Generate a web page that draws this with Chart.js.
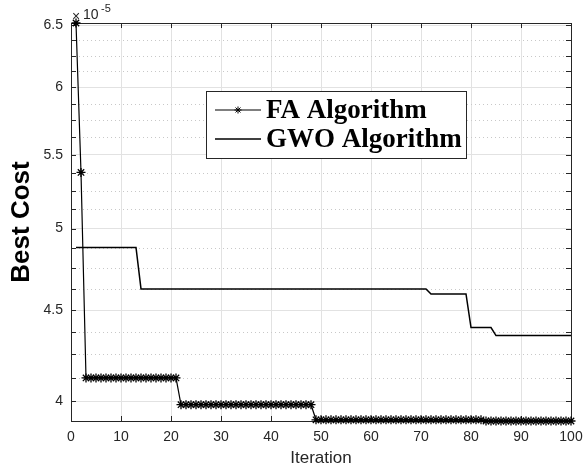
<!DOCTYPE html>
<html>
<head>
<meta charset="utf-8">
<script src="https://cdn.jsdelivr.net/npm/chart.js@4.4.1/dist/chart.umd.min.js"></script>
<style>
  html, body { margin: 0; padding: 0; background: #fff; }
  #wrap { width: 584px; height: 469px; }
</style>
</head>
<body>
<div id="wrap"><canvas id="costChart" width="584" height="469"></canvas></div>
<script>
// best cost per iteration, in units of 1e-5
const iterations = [
  1, 2, 3, 4, 5, 6, 7, 8, 9, 10, 11, 12, 13, 14, 15, 16, 17, 18, 19, 20,
  21, 22, 23, 24, 25, 26, 27, 28, 29, 30, 31, 32, 33, 34, 35, 36, 37, 38, 39, 40,
  41, 42, 43, 44, 45, 46, 47, 48, 49, 50, 51, 52, 53, 54, 55, 56, 57, 58, 59, 60,
  61, 62, 63, 64, 65, 66, 67, 68, 69, 70, 71, 72, 73, 74, 75, 76, 77, 78, 79, 80,
  81, 82, 83, 84, 85, 86, 87, 88, 89, 90, 91, 92, 93, 94, 95, 96, 97, 98, 99, 100
];

const faCost = [
  6.52, 5.376, 4.123, 4.123, 4.123, 4.123, 4.123, 4.123, 4.123, 4.123,
  4.123, 4.123, 4.123, 4.123, 4.123, 4.123, 4.123, 4.123, 4.123, 4.123,
  4.123, 3.983, 3.983, 3.983, 3.983, 3.983, 3.983, 3.983, 3.983, 3.983,
  3.983, 3.983, 3.983, 3.983, 3.983, 3.983, 3.983, 3.983, 3.983, 3.983,
  3.983, 3.983, 3.983, 3.983, 3.983, 3.983, 3.983, 3.983, 3.906, 3.906,
  3.906, 3.906, 3.906, 3.906, 3.906, 3.906, 3.906, 3.906, 3.906, 3.906,
  3.906, 3.906, 3.906, 3.906, 3.906, 3.906, 3.906, 3.906, 3.906, 3.906,
  3.906, 3.906, 3.906, 3.906, 3.906, 3.906, 3.906, 3.906, 3.906, 3.906,
  3.906, 3.906, 3.900, 3.900, 3.900, 3.900, 3.900, 3.900, 3.900, 3.900,
  3.900, 3.900, 3.900, 3.900, 3.900, 3.900, 3.900, 3.900, 3.900, 3.900
];

const gwoCost = [
  4.88, 4.88, 4.88, 4.88, 4.88, 4.88, 4.88, 4.88, 4.88, 4.88,
  4.88, 4.88, 4.88, 4.625, 4.625, 4.625, 4.625, 4.625, 4.625, 4.625,
  4.625, 4.625, 4.625, 4.625, 4.625, 4.625, 4.625, 4.625, 4.625, 4.625,
  4.625, 4.625, 4.625, 4.625, 4.625, 4.625, 4.625, 4.625, 4.625, 4.625,
  4.625, 4.625, 4.625, 4.625, 4.625, 4.625, 4.625, 4.625, 4.625, 4.625,
  4.625, 4.625, 4.625, 4.625, 4.625, 4.625, 4.625, 4.625, 4.625, 4.625,
  4.625, 4.625, 4.625, 4.625, 4.625, 4.625, 4.625, 4.625, 4.625, 4.625,
  4.625, 4.595, 4.595, 4.595, 4.595, 4.595, 4.595, 4.595, 4.595, 4.40,
  4.40, 4.40, 4.40, 4.40, 4.355, 4.355, 4.355, 4.355, 4.355, 4.355,
  4.355, 4.355, 4.355, 4.355, 4.355, 4.355, 4.355, 4.355, 4.355, 4.355
];

const xTicks = [0, 10, 20, 30, 40, 50, 60, 70, 80, 90, 100];
const costTicks = [4, 4.5, 5, 5.5, 6, 6.5];
const costMinorTicks = [
  4.125, 4.25, 4.375, 4.625, 4.75, 4.875, 5.125, 5.25, 5.375,
  5.625, 5.75, 5.875, 6.125, 6.25, 6.375
];
const seriesLabels = ['FA Algorithm', 'GWO Algorithm'];

const axisColor = '#262626';
const tickFont = { family: 'Liberation Sans, Arial, sans-serif', size: 14 };

function strokeLine(ctx, x1, y1, x2, y2) {
  ctx.beginPath();
  ctx.moveTo(x1, y1);
  ctx.lineTo(x2, y2);
  ctx.stroke();
}

// minor dotted grid, box frame and inward tick marks
const axesFrame = {
  id: 'axesFrame',
  beforeDatasetsDraw(chart) {
    const { ctx, chartArea: a, scales: { x, y } } = chart;
    ctx.save();
    ctx.lineWidth = 1;
    ctx.strokeStyle = '#c8c8c8';
    ctx.setLineDash([1, 3]);
    costMinorTicks.forEach(v => {
      const py = Math.round(y.getPixelForValue(v)) + 0.5;
      strokeLine(ctx, a.left, py, a.right, py);
    });
    ctx.setLineDash([]);

    ctx.strokeStyle = axisColor;
    xTicks.forEach(v => {
      const px = Math.round(x.getPixelForValue(v)) + 0.5;
      strokeLine(ctx, px, a.bottom, px, a.bottom - 5);
      strokeLine(ctx, px, a.top, px, a.top + 5);
    });
    costTicks.concat(costMinorTicks).forEach(v => {
      const py = Math.round(y.getPixelForValue(v)) + 0.5;
      strokeLine(ctx, a.left, py, a.left + 5, py);
      strokeLine(ctx, a.right, py, a.right - 5, py);
    });
    ctx.strokeRect(Math.round(a.left) + 0.5, Math.round(a.top) + 0.5,
      Math.round(a.right - a.left), Math.round(a.bottom - a.top));
    ctx.restore();
  },
  afterDraw(chart) {
    const { ctx, chartArea: a } = chart;
    ctx.save();
    // exponent label
    ctx.fillStyle = axisColor;
    ctx.textBaseline = 'alphabetic';
    ctx.font = '14px Liberation Sans, Arial, sans-serif';
    ctx.fillText('\u00d7', a.left + 1, 21);
    ctx.fillText('10', a.left + 12, 19);
    ctx.font = '11px Liberation Sans, Arial, sans-serif';
    ctx.fillText('-5', a.left + 30, 12);

    // legend box
    const box = { left: 206, top: 91, width: 260, height: 67 };
    ctx.fillStyle = '#fff';
    ctx.fillRect(box.left, box.top, box.width, box.height);
    ctx.strokeStyle = axisColor;
    ctx.lineWidth = 1;
    ctx.strokeRect(box.left + 0.5, box.top + 0.5, box.width, box.height);

    const rowY = [110, 139];
    chart.data.datasets.forEach((ds, i) => {
      const yy = rowY[i];
      ctx.strokeStyle = ds.borderColor;
      ctx.lineWidth = ds.borderWidth;
      strokeLine(ctx, 215, yy, 261, yy);
      if (ds.pointRadius > 0) {
        ctx.strokeStyle = ds.pointBorderColor;
        ctx.lineWidth = 1;
        Chart.helpers.drawPoint(ctx, {
          pointStyle: ds.pointStyle, radius: 3.5, rotation: 0, borderWidth: 1
        }, 238, yy);
      }
      ctx.fillStyle = '#000';
      ctx.font = 'bold 27px Liberation Serif, Times New Roman, serif';
      ctx.textBaseline = 'middle';
      ctx.fillText(ds.label, 266, yy + 1);
    });
    ctx.restore();
  }
};

const ctx = document.getElementById('costChart').getContext('2d');

new Chart(ctx, {
  type: 'line',
  data: {
    datasets: [{
      label: seriesLabels[0],
      data: iterations.map((it, i) => ({ x: it, y: faCost[i] })),
      borderColor: '#000',
      borderWidth: 1.2,
      pointStyle: 'star',
      pointRadius: 4.5,
      pointBorderWidth: 1.3,
      pointBorderColor: '#000',
      pointBackgroundColor: 'rgba(0,0,0,0)',
      tension: 0,
      clip: false
    }, {
      label: seriesLabels[1],
      data: iterations.map((it, i) => ({ x: it, y: gwoCost[i] })),
      borderColor: '#000',
      borderWidth: 1.5,
      pointRadius: 0,
      tension: 0,
      clip: false
    }]
  },
  options: {
    responsive: false,
    animation: false,
    layout: { padding: { left: 0, right: 13, top: 23, bottom: 0 } },
    plugins: {
      legend: { display: false },
      tooltip: { enabled: false }
    },
    scales: {
      x: {
        type: 'linear',
        min: 0,
        max: 100,
        afterBuildTicks(scale) { scale.ticks = xTicks.map(v => ({ value: v })); },
        afterFit(scale) {
          scale.height = 48;
          scale.paddingLeft = 0;
          scale.paddingRight = 0;
        },
        ticks: { color: axisColor, font: tickFont, padding: 8, maxRotation: 0 },
        grid: { color: '#e2e2e2', drawTicks: false },
        border: { display: false },
        title: {
          display: true,
          text: 'Iteration',
          color: axisColor,
          font: { family: 'Liberation Sans, Arial, sans-serif', size: 17, lineHeight: 1 },
          padding: { top: 0, bottom: 2 }
        }
      },
      y: {
        type: 'logarithmic',
        min: 3.9,
        max: 6.52,
        afterBuildTicks(scale) { scale.ticks = costTicks.map(v => ({ value: v })); },
        afterFit(scale) {
          scale.width = 71;
          scale.paddingTop = 0;
          scale.paddingBottom = 0;
        },
        ticks: {
          color: axisColor,
          font: tickFont,
          padding: 8,
          callback: v => String(v)
        },
        grid: { color: '#e2e2e2', drawTicks: false },
        border: { display: false },
        title: {
          display: true,
          text: 'Best Cost',
          color: '#000',
          font: { family: 'Liberation Sans, Arial, sans-serif', size: 26, weight: 'bold', lineHeight: 1 },
          padding: { top: 9, bottom: 0 }
        }
      }
    }
  },
  plugins: [axesFrame]
});
</script>
</body>
</html>
